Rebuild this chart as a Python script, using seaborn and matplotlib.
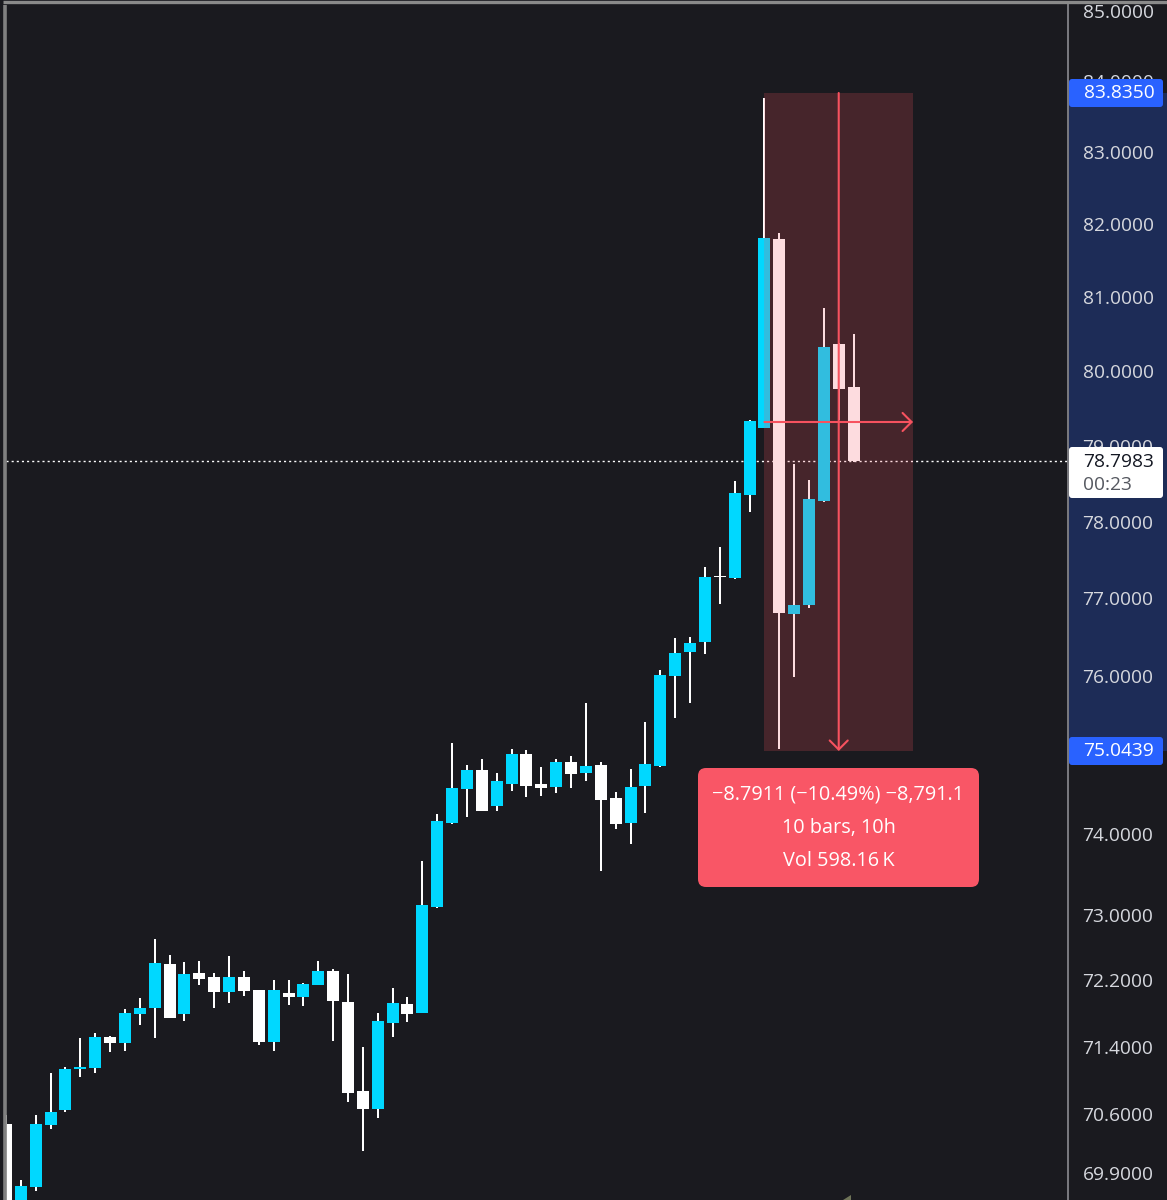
import numpy as np
import pandas as pd
import seaborn as sns
import matplotlib.pyplot as plt
from matplotlib.patches import FancyBboxPatch, Polygon

# hourly candles, oldest first
opens = [70.48, 69.30, 69.73, 70.47, 70.64, 71.13, 71.14, 71.51, 71.44, 71.79,
         71.86, 72.40, 71.79, 72.29, 72.24, 72.06, 72.24, 72.09, 71.45, 72.05,
         72.00, 72.14, 72.32, 71.94, 70.87, 70.65, 71.68, 71.92, 71.80, 73.10,
         74.14, 74.56, 74.81, 74.35, 74.63, 75.00, 74.63, 74.59, 74.91, 74.76,
         74.87, 74.45, 74.14, 74.60, 74.86, 76.00, 76.30, 76.43, 77.29, 77.26,
         78.35, 79.24, 81.80, 76.79, 76.91, 78.27, 80.36, 79.78]
closes = [69.30, 69.74, 70.48, 70.62, 71.13, 71.16, 71.51, 71.44, 71.80, 71.87,
          72.41, 71.75, 72.28, 72.22, 72.06, 72.24, 72.07, 71.46, 72.08, 72.00,
          72.16, 72.32, 71.95, 70.85, 70.65, 71.71, 71.93, 71.79, 73.12, 74.17,
          74.58, 74.81, 74.29, 74.67, 75.00, 74.60, 74.58, 74.91, 74.75, 74.86,
          74.43, 74.13, 74.59, 74.88, 76.01, 76.29, 76.42, 77.28, 77.28, 78.38,
          79.33, 81.82, 76.81, 76.91, 78.30, 80.33, 79.76, 78.7983]
highs = [70.58, 69.81, 70.58, 71.08, 71.15, 71.50, 71.57, 71.53, 71.85, 71.99,
         72.70, 72.51, 72.42, 72.44, 72.29, 72.50, 72.32, 72.09, 72.21, 72.21,
         72.17, 72.44, 72.34, 72.28, 71.40, 71.80, 72.11, 72.00, 73.67, 74.25,
         75.14, 74.87, 74.94, 74.76, 75.07, 75.06, 74.84, 74.94, 74.98, 75.65,
         74.91, 74.53, 74.82, 75.41, 76.07, 76.48, 76.50, 77.40, 77.66, 78.53,
         79.35, 83.76, 81.88, 78.76, 78.55, 80.86, 80.38, 80.50]
lows = [69.20, 69.25, 69.69, 70.42, 70.62, 71.04, 71.08, 71.34, 71.35, 71.66,
        71.50, 71.75, 71.71, 72.14, 71.86, 71.93, 72.01, 71.42, 71.35, 71.90,
        71.89, 72.14, 71.47, 70.74, 70.16, 70.55, 71.52, 71.70, 71.80, 73.08,
        74.13, 74.22, 74.29, 74.29, 74.54, 74.46, 74.48, 74.51, 74.58, 74.66,
        73.54, 74.07, 73.88, 74.26, 74.84, 75.46, 75.65, 76.28, 76.92, 77.25,
        78.12, 79.24, 75.07, 75.99, 76.87, 78.26, 79.35, 78.78]

price_ticks = [85, 84, 83, 82, 81, 80, 79, 78, 77, 76, 74, 73, 72.2, 71.4, 70.6, 69.9]

last_price = 78.7983
range_top = 83.8350
range_bottom = 75.0439
range_first_bar = 51
range_bars = 10
range_lines = ['\u22128.7911 (\u221210.49%) \u22128,791.1', '10 bars, 10h', 'Vol 598.16\u2009K']

BG = '#1A1A1F'
CYAN = '#00D8FF'
RED = '#F7525F'
BLUE = '#2962FF'
TICK_TEXT = '#D6D8DE'
FONT = ['Open Sans', 'DejaVu Sans']
LABEL_SIZE = 13.8

W, H = 1167, 1200
BAR_PX = 14.87

sns.set_theme(style='dark', rc={
    'figure.facecolor': BG,
    'axes.facecolor': BG,
    'savefig.facecolor': BG,
    'lines.solid_capstyle': 'butt',
})
plt.rcParams['font.family'] = FONT

bars = np.arange(len(opens))
candles = pd.DataFrame({'bar': bars, 'open': opens, 'close': closes, 'high': highs, 'low': lows})
candles['side'] = np.where(candles['close'] >= candles['open'], 'up', 'down')

wicks = candles.melt(id_vars=['bar'], value_vars=['low', 'high'], value_name='price')
bodies = candles.melt(id_vars=['bar', 'side'], value_vars=['open', 'close'], value_name='price')

fig = plt.figure(figsize=(W / 100, H / 100), dpi=100)

# price scale strip sits under the chart axes, which carries the tick labels
ax_price = fig.add_axes([1068 / W, 0, (W - 1068) / W, (H - 3) / H], zorder=0)
ax = fig.add_axes([6 / W, 0, (1068 - 6) / W, (H - 3) / H], zorder=1)

for a in (ax, ax_price):
    a.set_yscale('log')
    a.set_ylim(69.58, 85.115)
    a.grid(False)
ax.set_xlim(0, (1068 - 6) / BAR_PX)

ax_price.axhspan(range_bottom, range_top, color=BLUE, alpha=0.25, lw=0)
ax_price.set_xticks([])
ax_price.set_yticks([])
ax_price.minorticks_off()
for s in ax_price.spines.values():
    s.set_visible(False)

ax.axhline(last_price, color='white', lw=1.0, ls=(0, (1.5, 2.2)), zorder=2)

sns.lineplot(data=wicks, x='bar', y='price', units='bar', estimator=None, sort=False,
             color='white', lw=1.44, solid_capstyle='butt', zorder=3, ax=ax, legend=False)
sns.lineplot(data=bodies, x='bar', y='price', units='bar', hue='side', estimator=None, sort=False,
             palette={'up': CYAN, 'down': '#FFFFFF'}, lw=8.64, solid_capstyle='butt', zorder=4,
             ax=ax, legend=False)

# long/short measure tool on top of the candles
range_last_bar = range_first_bar + range_bars
ax.fill_between([range_first_bar, range_last_bar], range_bottom, range_top,
                color=RED, alpha=0.2, lw=0, zorder=5)
range_mid = np.sqrt(range_top * range_bottom)
bar_mid = range_first_bar + range_bars / 2
arrow = dict(arrowstyle='->,head_length=6.5,head_width=6.5', color=RED, lw=1.5,
             mutation_scale=1, shrinkA=0, shrinkB=0)
ax.annotate('', xy=(range_last_bar, range_mid), xytext=(range_first_bar, range_mid),
            arrowprops=arrow, zorder=6)
ax.annotate('', xy=(bar_mid, range_bottom), xytext=(bar_mid, range_top),
            arrowprops=arrow, zorder=6)

ax.set_xlabel('')
ax.set_ylabel('')
ax.set_xticks([])
ax.yaxis.tick_right()
ax.set_yticks(price_ticks, labels=[f'{t:.4f}' for t in price_ticks])
ax.minorticks_off()
ax.tick_params(axis='y', which='major', length=0, pad=10.5, labelsize=LABEL_SIZE, labelcolor=TICK_TEXT)
for s in ['top', 'left', 'bottom']:
    ax.spines[s].set_visible(False)
ax.spines['right'].set_color('#7B7B80')
ax.spines['right'].set_linewidth(1.4)

# tags, info box and screenshot frame, placed in pixels
ov = fig.add_axes([0, 0, 1, 1], zorder=2)
ov.set_xlim(0, W)
ov.set_ylim(H, 0)
ov.axis('off')


def tag(x0, y0, x1, y1, color, radius=3):
    ov.add_patch(FancyBboxPatch((x0, y0), x1 - x0, y1 - y0, boxstyle=f'round,pad=0,rounding_size={radius}',
                                fc=color, ec='none'))


tag(1069, 79, 1163, 107, BLUE)
ov.text(1119, 93.5, f'{range_top:.4f}', color='white', fontsize=LABEL_SIZE, ha='center', va='center')
tag(1069, 737, 1163, 765, BLUE)
ov.text(1119, 751.5, f'{range_bottom:.4f}', color='white', fontsize=LABEL_SIZE, ha='center', va='center')
tag(1069, 447, 1163, 498, 'white')
ov.text(1119, 462, f'{last_price:.4f}', color='#131722', fontsize=LABEL_SIZE, ha='center', va='center')
ov.text(1083, 485, '00:23', color='#555860', fontsize=LABEL_SIZE, ha='left', va='center')

tag(698, 768, 979, 887, '#F95666', radius=8)
for text_y, line in zip([794.5, 828, 861.5], range_lines):
    ov.text(838.5, text_y, line, color='white', fontsize=14.3, ha='center', va='center')

ov.plot([4.5, 4.5], [H, 5], color='#808080', lw=2.6, solid_capstyle='butt')
ov.plot([3, W], [1.5, 1.5], color='#8A8A8A', lw=2.4, solid_capstyle='butt')
ov.add_patch(Polygon([[843, H], [851, 1195], [851, H]], closed=True, fc='#6F7458', ec='none'))

plt.savefig('out.png', dpi=100)
plt.close()
